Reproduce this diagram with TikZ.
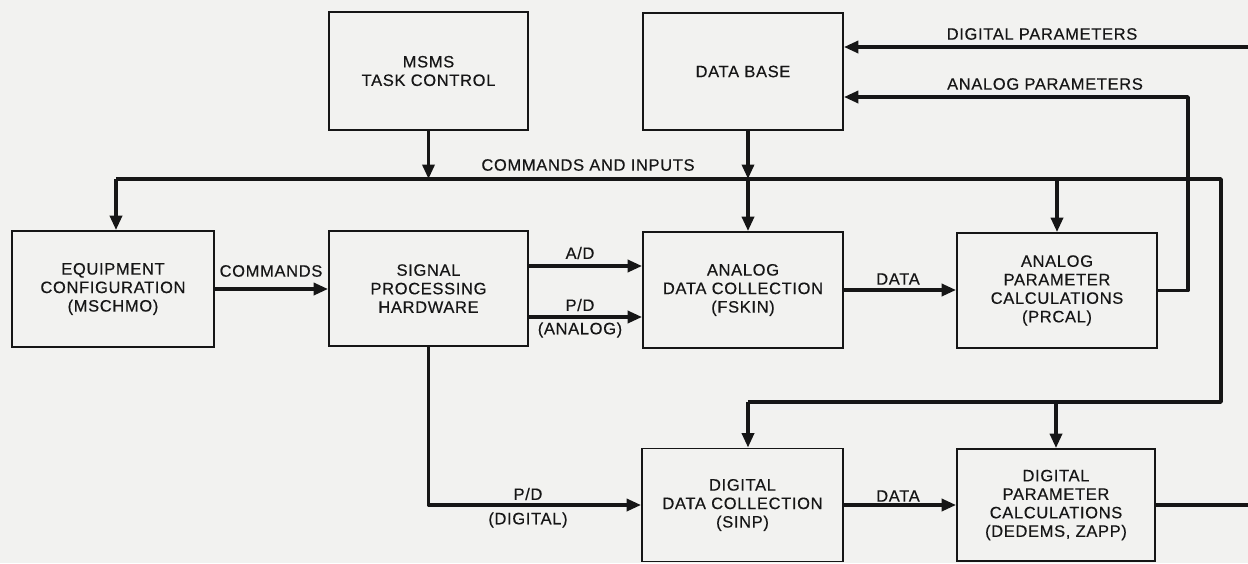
\documentclass[tikz,border=0pt]{standalone}
\usepackage{fontspec}
\setmainfont{Liberation Sans}[LetterSpace=4.0,FakeBold=0.4]
\usetikzlibrary{arrows.meta,calc}
\definecolor{paper}{RGB}{242,242,240}
\definecolor{ink}{RGB}{22,22,22}
\tikzset{
  blk/.style={draw=ink, line width=1.8pt, align=center, inner sep=0pt,
              font=\fontsize{16.5}{18.5}\selectfont, text=ink},
  conn/.style={draw=ink, line width=3.5pt, line join=round},
  arr/.style={conn, -{Triangle[length=14.5pt,width=12pt]}},
  lbl/.style={inner sep=0pt, font=\fontsize{16.5}{18.5}\selectfont, text=ink}
}
\begin{document}
\begin{tikzpicture}[x=1pt,y=-1pt]
  % page area
  \fill[paper] (0,0) rectangle (1248,563);
  \useasboundingbox (0,0) rectangle (1248,563);

  % blocks
  \node[blk, minimum width=199pt, minimum height=118pt] (task)  at (428.5,71)  {MSMS\\TASK CONTROL};
  \node[blk, minimum width=200pt, minimum height=117pt] (db)    at (743,71.5)  {DATA BASE};
  \node[blk, minimum width=202pt, minimum height=116pt] (equip) at (113,289)   {EQUIPMENT\\CONFIGURATION\\(MSCHMO)};
  \node[blk, minimum width=199pt, minimum height=115pt] (sig)   at (428.5,288.5) {SIGNAL\\PROCESSING\\HARDWARE};
  \node[blk, minimum width=200pt, minimum height=116pt] (adc)   at (743,290)   {ANALOG\\DATA COLLECTION\\(FSKIN)};
  \node[blk, minimum width=200pt, minimum height=115pt] (apc)   at (1057,290.5) {ANALOG\\PARAMETER\\CALCULATIONS\\(PRCAL)};
  \node[blk, minimum width=201pt, minimum height=113pt] (ddc)   at (742.5,505) {DIGITAL\\DATA COLLECTION\\(SINP)};
  \node[blk, minimum width=198pt, minimum height=112pt] (dpc)   at (1056,505)  {DIGITAL\\PARAMETER\\CALCULATIONS\\(DEDEMS, ZAPP)};

  % bus routing points
  \coordinate (busL)  at (116,179);
  \coordinate (busR)  at (1221,179);
  \coordinate (busBR) at (1221,402);
  \coordinate (busBL) at (748,402);
  \coordinate (dbx)   at (748,0);
  \coordinate (apR)   at (1188,97);
  \coordinate (dpIn)  at (1248,47);
  \coordinate (dpOut) at (1248,506);

  % commands and inputs bus
  \draw[conn] (busL) -- (busR) -- (busBR) -- (busBL);
  \draw[arr] (busL) -- (busL |- equip.north);
  \draw[arr] (task.south) -- (task.south |- busL);
  \draw[arr] (db.south -| dbx) -- (dbx |- busL);
  \draw[arr] (dbx |- busL) -- (dbx |- adc.north);
  \draw[arr] (apc.north |- busL) -- (apc.north);
  \draw[arr] (busBL) -- (busBL |- ddc.north);
  \draw[arr] (dpc.north |- busBR) -- (dpc.north);

  % data flow
  \draw[arr] (equip.east) -- (equip.east -| sig.west);
  \draw[arr] ([yshift=22.5pt]sig.east) -- ([yshift=22.5pt]sig.east -| adc.west);
  \draw[arr] ([yshift=-28.5pt]sig.east) -- ([yshift=-28.5pt]sig.east -| adc.west);
  \draw[arr] (adc.east) -- (adc.east -| apc.west);
  \draw[arr] (sig.south) |- (ddc.west);
  \draw[arr] (ddc.east) -- (dpc.west);

  % parameter returns to the data base
  \draw[arr] (apc.east) -| (apR) -- (apR -| db.east);
  \draw[arr] (dpIn) -- (dpIn -| db.east);
  \draw[conn] (dpc.east) -- (dpc.east -| dpOut);

  % connector labels
  \node[lbl] (lci)  at (588,165)  {COMMANDS AND INPUTS};
  \node[lbl] (ldp)  at (1042,34)  {DIGITAL PARAMETERS};
  \node[lbl] (lap)  at (1045,84)  {ANALOG PARAMETERS};
  \node[lbl] (lcmd) at (271,271)  {COMMANDS};
  \node[lbl] (lad)  at (580,253)  {A/D};
  \node[lbl] (lpda) at (580,305)  {P/D};
  \node[lbl] (lana) at (580,330)  {(ANALOG)};
  \node[lbl] (lda)  at (898,279)  {DATA};
  \node[lbl] (ldd)  at (898,496)  {DATA};
  \node[lbl] (lpdd) at (528,494)  {P/D};
  \node[lbl] (ldig) at (528,520)  {(DIGITAL)};
\end{tikzpicture}
\end{document}
